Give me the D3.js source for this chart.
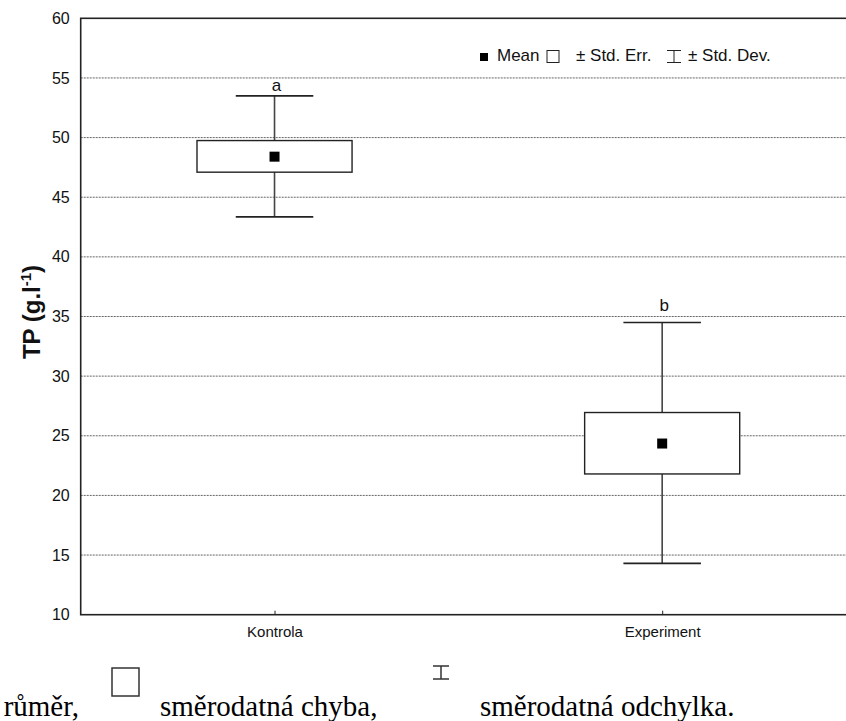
<!DOCTYPE html>
<html>
<head>
<meta charset="utf-8">
<script src="https://cdn.jsdelivr.net/npm/d3@7"></script>
<style>
  html, body { margin: 0; padding: 0; background: #fff; }
  svg { display: block; }
</style>
</head>
<body>
<div id="chart"></div>
<script>
// ======================================================
// TP (g.l-1): mean, std. error box, std. deviation whiskers
// ======================================================

// --- Data ---
const categories = ["Kontrola", "Experiment"];
const means = [48.4, 24.35];
const stdErrLow = [47.1, 21.8];
const stdErrHigh = [49.75, 26.95];
const stdDevLow = [43.35, 14.3];
const stdDevHigh = [53.5, 34.5];
const groupLetters = ["a", "b"];
const letterValues = [53.9, 35.5]; // where the letters sit on the y scale
const yTicks = [10, 15, 20, 25, 30, 35, 40, 45, 50, 55, 60];

const width = 846;
const height = 721;
const plot = { left: 80.7, top: 18.3, right: 856, bottom: 614.7 };
const sans = "Arial, 'Liberation Sans', sans-serif";
const serif = "'Times New Roman', 'Liberation Serif', serif";
const ink = "#222";

// --- Scales ---
const x = d3.scaleLinear().domain([-0.5, 1.5]).range([plot.left, plot.right]);
const y = d3.scaleLinear().domain([10, 60]).range([plot.bottom, plot.top]);
const step = x(1) - x(0);

const svg = d3.select("#chart")
    .append("svg")
    .attr("width", width)
    .attr("height", height);

// --- Grid lines ---
svg.append("g")
    .selectAll("line")
    .data(yTicks.slice(1, -1))
    .enter()
    .append("line")
    .attr("x1", plot.left)
    .attr("x2", plot.right)
    .attr("y1", (d) => y(d))
    .attr("y2", (d) => y(d))
    .attr("stroke", "#666")
    .attr("stroke-width", 1)
    .attr("stroke-dasharray", "2,1");

// --- Axes ---
const yAxis = svg.append("g")
    .attr("transform", `translate(${plot.left},0)`)
    .call(d3.axisLeft(y).tickValues(yTicks).tickSize(0).tickPadding(11));
yAxis.select(".domain").remove();
yAxis.selectAll("text")
    .attr("font-family", sans)
    .attr("font-size", 16)
    .attr("fill", "#111");

const xAxis = svg.append("g")
    .attr("transform", `translate(0,${plot.bottom})`)
    .call(d3.axisBottom(x)
        .tickValues(d3.range(categories.length))
        .tickFormat((i) => categories[i])
        .tickSizeInner(-4)
        .tickSizeOuter(0)
        .tickPadding(12));
xAxis.select(".domain").remove();
xAxis.selectAll("line").attr("stroke", ink);
xAxis.selectAll("text")
    .attr("font-family", sans)
    .attr("font-size", 15)
    .attr("fill", "#111");

// frame
svg.append("rect")
    .attr("x", plot.left)
    .attr("y", plot.top)
    .attr("width", plot.right - plot.left)
    .attr("height", plot.bottom - plot.top)
    .attr("fill", "none")
    .attr("stroke", ink)
    .attr("stroke-width", 1.6);

// y axis title
svg.append("text")
    .attr("transform", "translate(40,312) rotate(-90)")
    .attr("text-anchor", "middle")
    .attr("font-family", sans)
    .attr("font-size", 24)
    .attr("font-weight", "bold")
    .attr("fill", "#111")
    .call((t) => {
        t.append("tspan").text("TP (g.l");
        t.append("tspan").attr("dy", -9).attr("font-size", 15).text("-1");
        t.append("tspan").attr("dy", 9).text(")");
    });

// --- Boxes ---
const groups = svg.append("g")
    .selectAll("g")
    .data(categories)
    .enter()
    .append("g");

groups.append("line")
    .attr("x1", (d, i) => x(i))
    .attr("x2", (d, i) => x(i))
    .attr("y1", (d, i) => y(stdDevHigh[i]))
    .attr("y2", (d, i) => y(stdDevLow[i]))
    .attr("stroke", "#444")
    .attr("stroke-width", 1.6);

[stdDevHigh, stdDevLow].forEach((arr) => {
    groups.append("line")
        .attr("x1", (d, i) => x(i) - step * 0.1)
        .attr("x2", (d, i) => x(i) + step * 0.1)
        .attr("y1", (d, i) => y(arr[i]))
        .attr("y2", (d, i) => y(arr[i]))
        .attr("stroke", ink)
        .attr("stroke-width", 1.6);
});

groups.append("rect")
    .attr("x", (d, i) => x(i) - step * 0.2)
    .attr("width", step * 0.4)
    .attr("y", (d, i) => y(stdErrHigh[i]))
    .attr("height", (d, i) => y(stdErrLow[i]) - y(stdErrHigh[i]))
    .attr("fill", "#fff")
    .attr("stroke", ink)
    .attr("stroke-width", 1.4);

groups.append("rect")
    .attr("x", (d, i) => x(i) - 5)
    .attr("y", (d, i) => y(means[i]) - 5)
    .attr("width", 10)
    .attr("height", 10)
    .attr("fill", "#000");

groups.append("text")
    .attr("x", (d, i) => x(i) + 2)
    .attr("y", (d, i) => y(letterValues[i]))
    .attr("text-anchor", "middle")
    .attr("font-family", sans)
    .attr("font-size", 17)
    .attr("fill", "#111")
    .text((d, i) => groupLetters[i]);

// --- Legend ---
const legend = svg.append("g").attr("font-family", sans).attr("font-size", 17).attr("fill", "#111");
legend.append("rect").attr("x", 480).attr("y", 53).attr("width", 8).attr("height", 8).attr("fill", "#000");
legend.append("text").attr("x", 497).attr("y", 61).text("Mean");
legend.append("rect").attr("x", 547).attr("y", 50.5).attr("width", 12).attr("height", 12)
    .attr("fill", "none").attr("stroke", ink).attr("stroke-width", 1);
legend.append("text").attr("x", 576).attr("y", 61).text("± Std. Err.");
legend.append("path").attr("d", "M667,50.5H681M674,50.5V62.5M667,62.5H681")
    .attr("fill", "none").attr("stroke", ink).attr("stroke-width", 1);
legend.append("text").attr("x", 688).attr("y", 61).text("± Std. Dev.");

// --- Caption below the figure ---
const caption = svg.append("g").attr("font-family", serif).attr("font-size", 29).attr("fill", "#000");
caption.append("text").attr("x", 79).attr("y", 716).attr("text-anchor", "end").text("růměr,");
caption.append("rect").attr("x", 112).attr("y", 668).attr("width", 27).attr("height", 28)
    .attr("fill", "none").attr("stroke", "#333").attr("stroke-width", 1.5);
caption.append("text").attr("x", 160).attr("y", 716).text("směrodatná chyba,");
caption.append("path").attr("d", "M433,666H449M441,666V679M433,679H449")
    .attr("fill", "none").attr("stroke", "#333").attr("stroke-width", 1.5);
caption.append("text").attr("x", 480).attr("y", 716).text("směrodatná odchylka.");
</script>
</body>
</html>
